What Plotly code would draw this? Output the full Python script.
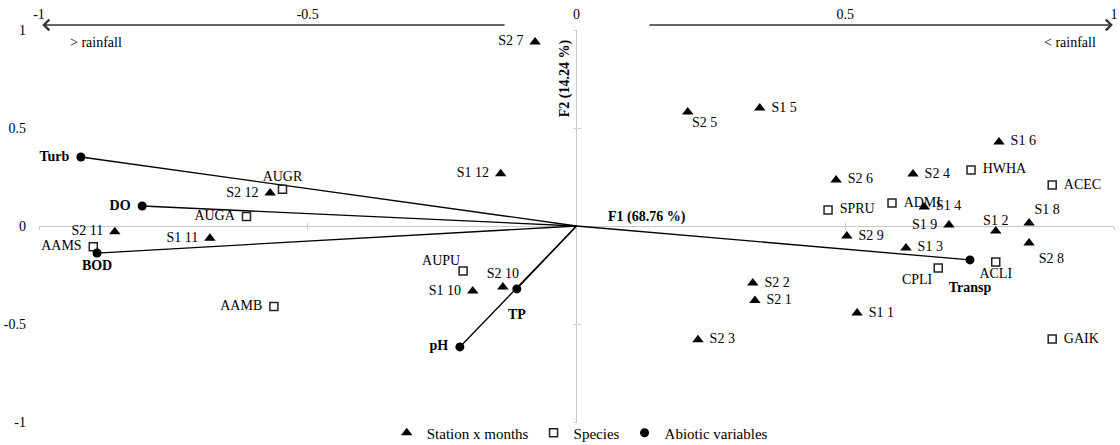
import plotly.graph_objects as go

# ---------------- data ----------------
station_labels = ["S2 7", "S2 5", "S1 5", "S1 6", "S2 4", "S2 6", "S1 4", "S1 9", "S1 2", "S1 8",
                  "S2 8", "S2 9", "S1 3", "S2 2", "S2 1", "S1 1", "S2 3", "S1 12", "S2 10", "S1 10",
                  "S2 12", "S2 11", "S1 11"]
station_x = [-0.077, 0.207, 0.341, 0.786, 0.626, 0.483, 0.647, 0.693, 0.780, 0.842,
             0.842, 0.503, 0.613, 0.328, 0.332, 0.522, 0.226, -0.141, -0.137, -0.193,
             -0.570, -0.859, -0.682]
station_y = [0.939, 0.582, 0.602, 0.429, 0.265, 0.235, 0.097, 0.005, -0.026, 0.015,
             -0.087, -0.051, -0.112, -0.291, -0.380, -0.444, -0.580, 0.266, -0.311, -0.332,
             0.168, -0.029, -0.063]

species_labels = ["AUGR", "AUGA", "AAMS", "AAMB", "AUPU", "SPRU", "ADMI", "HWHA", "ACEC", "CPLI", "ACLI", "GAIK"]
species_x = [-0.547, -0.614, -0.899, -0.563, -0.211, 0.468, 0.587, 0.734, 0.885, 0.673, 0.780, 0.885]
species_y = [0.188, 0.048, -0.106, -0.411, -0.230, 0.082, 0.117, 0.286, 0.209, -0.214, -0.184, -0.577]

abiotic_labels = ["Turb", "DO", "BOD", "TP", "pH", "Transp"]
abiotic_x = [-0.922, -0.808, -0.892, -0.111, -0.217, 0.732]
abiotic_y = [0.352, 0.102, -0.138, -0.321, -0.617, -0.173]

tick_vals = [-1, -0.5, 0, 0.5, 1]
tick_text = ["-1", "-0.5", "0", "0.5", "1"]
axis_tick_vals = [-1, -0.5, 0.5, 1]

f1_title = "F1 (68.76 %)"
f2_title = "F2 (14.24 %)"
legend_names = ["Station x months", "Species", "Abiotic variables"]

# ---------------- styles ----------------
label_pos = {
    "S2 7": "middle left", "S2 5": "bottom right", "S1 9": "middle left", "S1 2": "top center",
    "S1 8": "top right", "S2 8": "bottom right", "S1 12": "middle left", "S2 10": "top center",
    "S1 10": "middle left", "S2 12": "middle left", "S2 11": "middle left", "S1 11": "middle left",
    "AUGR": "top center", "AUGA": "middle left", "AAMS": "middle left", "AAMB": "middle left",
    "AUPU": "top left", "CPLI": "bottom left", "ACLI": "bottom center",
    "Turb": "middle left", "DO": "middle left", "BOD": "bottom center", "TP": "bottom center",
    "pH": "middle left", "Transp": "bottom center",
}
# size of the invisible "spacer" marker that sets each label's distance from its point
label_gap = {
    "S2 5": 5, "S1 2": 3, "S1 8": 7, "S2 8": 14, "S2 10": 7, "AUGR": 6, "AUPU": 3,
    "CPLI": 8, "ACLI": 7, "BOD": 9, "TP": 30, "Transp": 33,
}
DEFAULT_GAP = 17
FONT = "Liberation Serif, Times New Roman, serif"
AX_COLOR = "#C8C8C8"
TXT = dict(family=FONT, size=14, color="#000000")


def positions(labels):
    return [label_pos.get(l, "middle right") for l in labels]


def gaps(labels):
    return [label_gap.get(l, DEFAULT_GAP) for l in labels]


fig = go.Figure()

# lines from origin to abiotic variables
lx, ly = [], []
for x, y in zip(abiotic_x, abiotic_y):
    lx += [0, x, None]
    ly += [0, y, None]
fig.add_trace(go.Scatter(x=lx, y=ly, mode="lines", line=dict(color="#000000", width=1.3),
                         showlegend=False, hoverinfo="skip"))

groups = [
    (station_labels, station_x, station_y, dict(symbol="triangle-up", size=10, color="#000000"), False),
    (species_labels, species_x, species_y,
     dict(symbol="square-open", size=8, color="#222222", line=dict(width=1.5, color="#222222")), False),
    (abiotic_labels, abiotic_x, abiotic_y, dict(symbol="circle", size=9, color="#000000"), True),
]
for (labels, xs, ys, mk, bold), name in zip(groups, legend_names):
    fig.add_trace(go.Scatter(x=xs, y=ys, mode="markers", marker=mk, name=name,
                             showlegend=True, cliponaxis=False))
    txt = [f"<b>{l}</b>" if bold else l for l in labels]
    fig.add_trace(go.Scatter(x=xs, y=ys, mode="markers+text", text=txt,
                             textposition=positions(labels), textfont=TXT,
                             marker=dict(symbol="circle", size=gaps(labels), color="rgba(0,0,0,0)",
                                         opacity=0, line=dict(width=0)),
                             showlegend=False, cliponaxis=False, hoverinfo="skip"))

# arrows (rainfall gradient) at top
ARROW_Y = 1.0128
for head, tail in [(-0.994, -0.131), (0.998, 0.133)]:
    fig.add_annotation(x=head, y=ARROW_Y, xref="x", yref="paper", ax=tail, ay=0,
                       axref="x", ayref="pixel", showarrow=True, arrowhead=4,
                       arrowsize=1.4, arrowwidth=1.5, arrowcolor="#333333", text="")
fig.add_annotation(x=-0.946, y=0.934, xref="x", yref="y", text="> rainfall", showarrow=False,
                   xanchor="left", yanchor="middle", font=TXT)
fig.add_annotation(x=0.970, y=0.934, xref="x", yref="y", text="< rainfall", showarrow=False,
                   xanchor="right", yanchor="middle", font=TXT)

# axis titles
fig.add_annotation(x=0.055, y=0.046, xref="x", yref="y", text=f"<b>{f1_title}</b>", showarrow=False,
                   xanchor="left", yanchor="middle", font=TXT)
fig.add_annotation(x=-0.021, y=0.755, xref="x", yref="y", text=f"<b>{f2_title}</b>", showarrow=False,
                   textangle=-90, xanchor="center", yanchor="middle", font=TXT)

rng = [-1, 1]
tick_axis = dict(range=rng, anchor="free", position=0.5, tickvals=axis_tick_vals, ticklen=3,
                 tickcolor=AX_COLOR, showticklabels=False, showgrid=False, showline=False, zeroline=False)
fig.update_layout(
    width=1120, height=445,
    margin=dict(l=39, r=6, t=30, b=23, autoexpand=False),
    paper_bgcolor="white", plot_bgcolor="white",
    font=TXT,
    xaxis=dict(range=rng, side="top", tickvals=tick_vals, ticktext=tick_text, ticks="",
               showgrid=False, showline=False, zeroline=True, zerolinecolor=AX_COLOR,
               zerolinewidth=1.2, automargin=False, tickfont=TXT, ticklabelstandoff=7),
    yaxis=dict(range=rng, side="left", tickvals=tick_vals, ticktext=tick_text, ticks="",
               showgrid=False, showline=False, zeroline=True, zerolinecolor=AX_COLOR,
               zerolinewidth=1.2, automargin=False, tickfont=TXT, ticklabelstandoff=12),
    # tick marks crossing the axis lines through the origin
    xaxis2=dict(tick_axis, overlaying="x", ticks="outside"),
    xaxis3=dict(tick_axis, overlaying="x", ticks="inside"),
    yaxis2=dict(tick_axis, overlaying="y", ticks="outside"),
    yaxis3=dict(tick_axis, overlaying="y", ticks="inside"),
    legend=dict(orientation="h", x=0.503, xanchor="center", y=0.014, yanchor="top",
                font=dict(family=FONT, size=15, color="#000000"), itemwidth=30,
                tracegroupgap=0, bgcolor="rgba(0,0,0,0)"),
    showlegend=True,
)
# dummy invisible traces to activate the tick-mark axes
for xa, ya in [("x2", "y2"), ("x3", "y3")]:
    fig.add_trace(go.Scatter(x=[None], y=[None], xaxis=xa, yaxis=ya, showlegend=False, hoverinfo="skip"))

fig.write_html("out.html", config={"displayModeBar": False},
               post_script="document.body.style.margin='0';")
